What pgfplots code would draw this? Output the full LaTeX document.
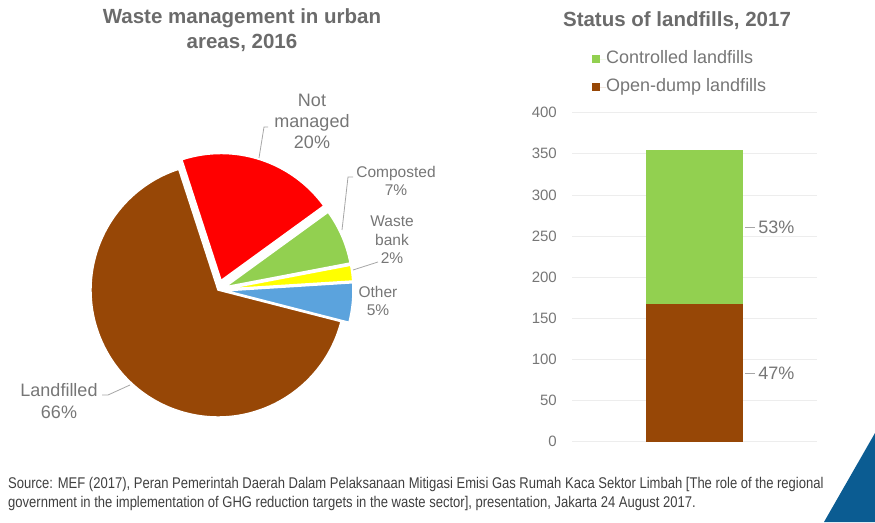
\documentclass[border=0pt]{standalone}
\usepackage{pgfplots}
\pgfplotsset{compat=1.18}
\usetikzlibrary{calc}
\usepackage{fontspec}
\setmainfont{Liberation Sans}
\newfontfamily\narrowfont[FakeStretch=0.84]{Liberation Sans}

\definecolor{brownfill}{HTML}{974706}
\definecolor{redfill}{HTML}{FF0000}
\definecolor{greenfill}{HTML}{92D050}
\definecolor{yellowfill}{HTML}{FFFF00}
\definecolor{bluefill}{HTML}{5BA3DD}
\definecolor{titlegray}{HTML}{6B6B6B}
\definecolor{labelgray}{HTML}{767676}
\definecolor{leadergray}{HTML}{A6A6A6}
\definecolor{gridgray}{HTML}{EDEDED}
\definecolor{srcgray}{HTML}{404040}
\definecolor{cornerblue}{HTML}{0B5C92}

% pie shares, 2016 (%)
\def\pLand{66}
\def\pNot{20}
\def\pComp{7}
\def\pBank{2}
\def\pOther{5}
\def\aZero{108}

% colour, start angle, end angle, explode
\newcommand{\pieslice}[4]{%
  \fill[#1, draw=white, line width=1.5pt, line join=round]
    ($(axis cs:218,232)+({((#2)+(#3))/2}:#4pt)$) -- ++({#2}:127pt)
    arc[start angle={#2}, end angle={#3}, radius=127pt] -- cycle;}

\begin{document}
\begin{tikzpicture}[x=1pt,y=1pt]
\useasboundingbox (0,0) rectangle (875,522);

% pie
\begin{axis}[at={(0pt,0pt)}, anchor=south west, scale only axis,
  x=1pt, y=1pt, xmin=0, xmax=875, ymin=0, ymax=522,
  hide axis, clip=false]
  \pieslice{redfill}{\aZero}{\aZero-3.6*\pNot}{10}
  \pieslice{greenfill}{\aZero-3.6*\pNot}{\aZero-3.6*(\pNot+\pComp)}{8}
  \pieslice{yellowfill}{\aZero-3.6*(\pNot+\pComp)}{\aZero-3.6*(\pNot+\pComp+\pBank)}{8}
  \pieslice{bluefill}{\aZero-3.6*(\pNot+\pComp+\pBank)}{\aZero-3.6*(\pNot+\pComp+\pBank+\pOther)}{8}
  \pieslice{brownfill}{\aZero-3.6*(\pNot+\pComp+\pBank+\pOther)}{\aZero-360}{0}

  \draw[leadergray, line width=0.8pt] (axis cs:268,395) -- (axis cs:264,395) -- (axis cs:259,364);
  \draw[leadergray, line width=0.8pt] (axis cs:353,345) -- (axis cs:348,345) -- (axis cs:342,292);
  \draw[leadergray, line width=0.8pt] (axis cs:378,260) -- (axis cs:353,252);
  \draw[leadergray, line width=0.8pt] (axis cs:102,127) -- (axis cs:108,127) -- (axis cs:130,137);

  \node[labelgray, align=center, font=\fontsize{18}{21}\selectfont] at (axis cs:312,401) {Not\\managed\\20\%};
  \node[labelgray, align=center, font=\fontsize{15.5}{18}\selectfont] at (axis cs:396,341) {Composted\\7\%};
  \node[labelgray, align=center, font=\fontsize{15.5}{18.5}\selectfont] at (axis cs:392,282) {Waste\\bank\\2\%};
  \node[labelgray, align=center, font=\fontsize{15.5}{18}\selectfont] at (axis cs:378,221) {Other\\5\%};
  \node[labelgray, align=center, font=\fontsize{18}{22}\selectfont] at (axis cs:59,121) {Landfilled\\66\%};
\end{axis}

% stacked bar
\begin{axis}[at={(572pt,80.3pt)}, anchor=south west, scale only axis,
  width=245pt, height=329pt,
  ybar stacked, bar width=97pt,
  xmin=0, xmax=2, ymin=0, ymax=400,
  ytick={0,50,...,400}, xtick=\empty,
  ymajorgrids, grid style={gridgray, line width=0.8pt},
  axis line style={draw=none}, major tick length=0pt,
  yticklabel style={labelgray, anchor=east, inner sep=0pt, xshift=-15pt,
    font=\fontsize{15}{18}\selectfont, /pgf/number format/assume math mode=true},
  reverse legend,
  legend image code/.code={\path (0pt,0pt) -- (14pt,0pt);\fill[#1] (0pt,-4pt) rectangle (8pt,4pt);},
  legend style={at={(0.0816,1.189)}, anchor=north west, draw=none, fill=none,
    inner sep=0pt, row sep=11pt, text=labelgray,
    font=\fontsize{18}{21}\selectfont,
    nodes={inner sep=0pt, text height=13pt, text depth=4pt}},
  legend cell align=left,
  clip=false]
  \addplot[fill=brownfill, draw=none] coordinates {(1,167)};
  \addplot[fill=greenfill, draw=none] coordinates {(1,188)};
  \legend{Open-dump landfills, Controlled landfills}

  \draw[leadergray, line width=0.8pt] (axis cs:1.412,261) -- (axis cs:1.494,261);
  \draw[leadergray, line width=0.8pt] (axis cs:1.412,83.5) -- (axis cs:1.494,83.5);
  \node[labelgray, anchor=west, inner sep=0pt, font=\fontsize{18}{21}\selectfont] at (axis cs:1.52,261) {53\%};
  \node[labelgray, anchor=west, inner sep=0pt, font=\fontsize{18}{21}\selectfont] at (axis cs:1.52,83.5) {47\%};
\end{axis}

% titles
\node[titlegray, align=center, font=\bfseries\fontsize{20.5}{25}\selectfont] at (242,491.5) {Waste management in urban\\areas, 2016};
\node[titlegray, font=\bfseries\fontsize{20.5}{25}\selectfont] at (677,501) {Status of landfills, 2017};

% source
\node[srcgray, anchor=west, align=left, inner sep=0pt, font=\narrowfont\fontsize{15.5}{19}\selectfont] at (8,28.5)
  {Source: MEF (2017), Peran Pemerintah Daerah Dalam Pelaksanaan Mitigasi Emisi Gas Rumah Kaca Sektor Limbah [The role of the regional\\government in the implementation of GHG reduction targets in the waste sector], presentation, Jakarta 24 August 2017.};

% corner decoration
\fill[cornerblue] (875,89) -- (875,0) -- (824,0) -- cycle;
\end{tikzpicture}
\end{document}
